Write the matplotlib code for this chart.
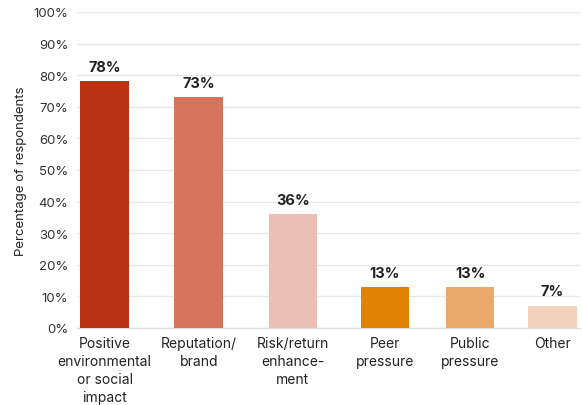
import matplotlib.pyplot as plt
import numpy as np

plt.rcParams['font.family'] = ['Inter', 'DejaVu Sans']

# Data
categories = ['Positive\nenvironmental\nor social\nimpact', 'Reputation/\nbrand',
              'Risk/return\nenhance-\nment', 'Peer\npressure', 'Public\npressure', 'Other']
values = [78, 73, 36, 13, 13, 7]
colors = ['#B83213', '#D5745F', '#EBBFB4', '#E08306', '#E9A96B', '#F4D3BE']
y_ticks = [0, 10, 20, 30, 40, 50, 60, 70, 80, 90, 100]

# bar slots (the source spaces them a little unevenly)
x = np.array([0, 1.05, 2.1, 3.13, 4.08, 5.0])

fig = plt.figure(figsize=(5.82, 4.06), dpi=100)
ax = fig.add_axes([0.132, 0.19, 0.865, 0.778])

bars = ax.bar(x, values, width=0.54, color=colors, zorder=3)
for rect, v in zip(bars, values):
    ax.text(rect.get_x() + rect.get_width() / 2, v + 2.3, f'{v}%',
            ha='center', va='bottom', fontsize=10.5, fontweight='bold', color='#222222')

ax.set_ylim(0, 100)
ax.set_xlim(-0.31, 5.31)
ax.set_yticks(y_ticks)
ax.set_yticklabels([f'{t}%' for t in y_ticks])
ax.set_xticks(x)
ax.set_xticklabels(categories, fontsize=10, color='#222222', linespacing=1.35)
ax.tick_params(axis='y', length=0, labelsize=9.5, labelcolor='#333333', pad=6)
ax.tick_params(axis='x', length=0, pad=6)
ax.grid(axis='y', color='#E8E8E8', linewidth=1, zorder=0)
for s in ['top', 'right', 'left']:
    ax.spines[s].set_visible(False)
ax.spines['bottom'].set_color('#DDDDDD')
ax.spines['bottom'].set_linewidth(1)
ax.set_ylabel('Percentage of respondents', fontsize=9.5, color='#222222', labelpad=5)

fig.savefig('out.png', dpi=100)
